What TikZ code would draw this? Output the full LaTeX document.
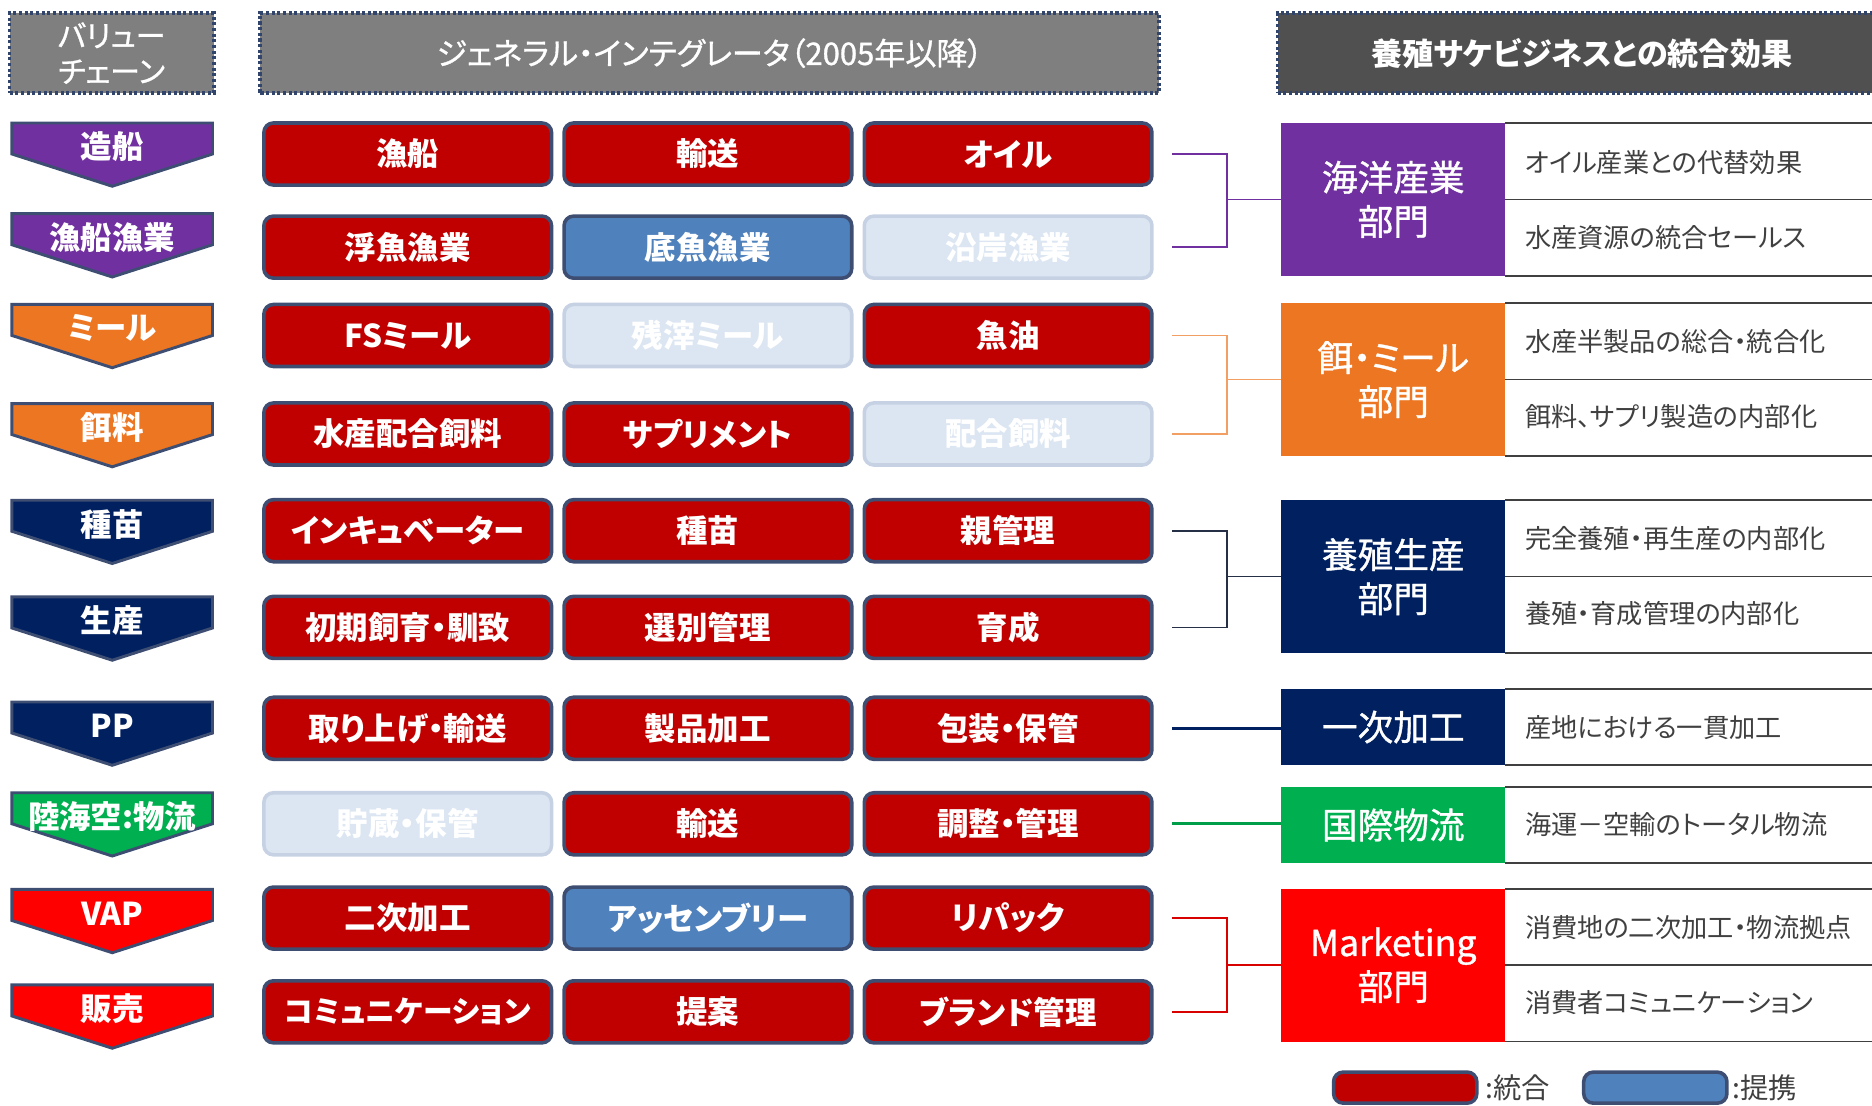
\documentclass[tikz,border=0pt]{standalone}
\usepackage{fontspec}
\setmainfont{Noto Sans CJK JP}[RawFeature=+palt]
\newfontfamily\medfont{Noto Sans CJK JP}[RawFeature=+palt, FakeBold=1]
\usepackage{tikz}
\usetikzlibrary{positioning}

\definecolor{boxred}{RGB}{192,0,0}
\definecolor{boxblue}{RGB}{79,129,189}
\definecolor{boxpale}{RGB}{220,230,242}
\definecolor{paleline}{RGB}{198,210,228}
\definecolor{slate}{RGB}{62,78,115}
\definecolor{hdgray}{RGB}{127,127,127}
\definecolor{hddark}{RGB}{80,80,80}
\definecolor{hdline}{RGB}{48,68,108}
\definecolor{cpurple}{RGB}{112,48,160}
\definecolor{corange}{RGB}{236,118,34}
\definecolor{cnavy}{RGB}{0,32,96}
\definecolor{cgreen}{RGB}{0,176,80}
\definecolor{cred}{RGB}{255,0,0}
\definecolor{txtgray}{RGB}{64,64,64}

\begin{document}
\begin{tikzpicture}[x=0.02cm, y=-0.02cm,
            hdbox/.style={rectangle, fill=hdgray, draw=hdline, line width=1.8pt, dash pattern=on 1.5pt off 1.2pt, text=white, minimum height=1.34cm, inner sep=0pt},
            chev/.style={draw=slate, line width=1.4pt},
            chevtext/.style={text=white, font=\bfseries\fontsize{15}{18}\selectfont},
            block/.style={rectangle, rounded corners=0.16cm, draw=slate, line width=1.7pt, fill=boxred, text=white, font=\bfseries\fontsize{15}{18}\selectfont, minimum width=4.82cm, minimum height=1.04cm, inner sep=0pt, outer sep=0pt},
            partner/.style={block, fill=boxblue},
            vacant/.style={block, fill=boxpale, draw=paleline},
            dept/.style={rectangle, text=white, minimum width=3.76cm, align=center, font=\medfont\fontsize{17}{21}\selectfont, inner sep=0pt, outer sep=0pt},
            effect/.style={anchor=west, text=txtgray, font=\fontsize{12.5}{15}\selectfont, inner sep=0pt},
            tabline/.style={draw=txtgray, line width=0.8pt},
            bracket/.style={line width=0.8pt},
            node distance=0.21cm
        ]
        \useasboundingbox (0,0) rectangle (1568,926);

        \node[hdbox, minimum width=3.42cm, align=center, font=\medfont\fontsize{14.3}{17}\selectfont] (hvc) at (93.5,44.5) {バリュー\\チェーン};
        \node[hdbox, minimum width=15.06cm, font=\medfont\fontsize{14.8}{17}\selectfont] (hgi) at (594.5,44.5) {ジェネラル・インテグレータ（2005年以降）};
        \node[hdbox, fill=hddark, minimum width=10.2cm, font=\bfseries\fontsize{14.8}{17}\selectfont] (hef) at (1325,44.5) {養殖サケビジネスとの統合効果};

        \foreach \t/\lab/\col [count=\i] in {103/造船/cpurple, 179/漁船漁業/cpurple, 255/ミール/corange, 338/餌料/corange, 419/種苗/cnavy, 500/生産/cnavy, 588/PP/cnavy, 664/陸海空:物流/cgreen, 745/VAP/cred, 825/販売/cred} {
            \draw[chev, fill=\col] (10,\t) -- (178,\t) -- (178,\t+26) -- (94,\t+53) -- (10,\t+26) -- cycle;
            \node[chevtext] (vc\i) at (94,\t+20) {\lab};
        }

        \node[block] (r1c1) at (341.5,129) {漁船};
        \node[block, right=of r1c1] (r1c2) {輸送};
        \node[block, right=of r1c2] (r1c3) {オイル};

        \node[block] (r2c1) at (341.5,207) {浮魚漁業};
        \node[partner, right=of r2c1] (r2c2) {底魚漁業};
        \node[vacant, right=of r2c2] (r2c3) {沿岸漁業};

        \node[block] (r3c1) at (341.5,281) {FSミール};
        \node[vacant, right=of r3c1] (r3c2) {残滓ミール};
        \node[block, right=of r3c2] (r3c3) {魚油};

        \node[block] (r4c1) at (341.5,363.5) {水産配合飼料};
        \node[block, right=of r4c1] (r4c2) {サプリメント};
        \node[vacant, right=of r4c2] (r4c3) {配合飼料};

        \node[block] (r5c1) at (341.5,444.5) {インキュベーター};
        \node[block, right=of r5c1] (r5c2) {種苗};
        \node[block, right=of r5c2] (r5c3) {親管理};

        \node[block] (r6c1) at (341.5,525.5) {初期飼育・馴致};
        \node[block, right=of r6c1] (r6c2) {選別管理};
        \node[block, right=of r6c2] (r6c3) {育成};

        \node[block] (r7c1) at (341.5,610) {取り上げ・輸送};
        \node[block, right=of r7c1] (r7c2) {製品加工};
        \node[block, right=of r7c2] (r7c3) {包装・保管};

        \node[vacant] (r8c1) at (341.5,690) {貯蔵・保管};
        \node[block, right=of r8c1] (r8c2) {輸送};
        \node[block, right=of r8c2] (r8c3) {調整・管理};

        \node[block] (r9c1) at (341.5,769) {二次加工};
        \node[partner, right=of r9c1] (r9c2) {アッセンブリー};
        \node[block, right=of r9c2] (r9c3) {リパック};

        \node[block] (r10c1) at (341.5,847.5) {\fontsize{14.2}{18}\selectfont コミュニケーション};
        \node[block, right=of r10c1] (r10c2) {提案};
        \node[block, right=of r10c2] (r10c3) {ブランド管理};

        \node[dept, fill=cpurple, minimum height=2.56cm] (d1) at (1167,167) {海洋産業\\部門};
        \node[dept, fill=corange, minimum height=2.56cm] (d2) at (1167,318) {餌・ミール\\部門};
        \node[dept, fill=cnavy, minimum height=2.56cm] (d3) at (1167,483) {養殖生産\\部門};
        \node[dept, fill=cnavy, minimum height=1.28cm] (d4) at (1167,609) {一次加工};
        \node[dept, fill=cgreen, minimum height=1.28cm] (d5) at (1167,691) {国際物流};
        \node[dept, fill=cred, minimum height=2.56cm] (d6) at (1167,808.5) {Marketing\\部門};

        \coordinate (edge) at (1568,0);
        \foreach \d in {d1,d2,d3,d6}
            \draw[tabline] (\d.north east) -- (\d.north east -| edge) (\d.east) -- (\d.east -| edge) (\d.south east) -- (\d.south east -| edge);
        \foreach \d in {d4,d5}
            \draw[tabline] (\d.north east) -- (\d.north east -| edge) (\d.south east) -- (\d.south east -| edge);

        \node[effect] (e1a) at (1277,136) {オイル産業との代替効果};
        \node[effect] (e1b) at (1277,199) {水産資源の統合セールス};
        \node[effect] (e2a) at (1277,286) {水産半製品の総合・統合化};
        \node[effect] (e2b) at (1277,349) {餌料、サプリ製造の内部化};
        \node[effect] (e3a) at (1277,451) {完全養殖・再生産の内部化};
        \node[effect] (e3b) at (1277,514) {養殖・育成管理の内部化};
        \node[effect] (e4) at (1277,609) {産地における一貫加工};
        \node[effect] (e5) at (1277,691) {海運－空輸のトータル物流};
        \node[effect] (e6a) at (1277,777) {消費地の二次加工・物流拠点};
        \node[effect] (e6b) at (1277,840) {消費者コミュニケーション};

        \draw[bracket, cpurple] ([xshift=0.34cm]r1c3.east) -- ++(46,0) |- ([xshift=0.34cm]r2c3.east);
        \draw[bracket, cpurple] (d1.west) -- ++(-44.5,0);
        \draw[bracket, corange!70] ([xshift=0.34cm]r3c3.east) -- ++(46,0) |- ([xshift=0.34cm]r4c3.east);
        \draw[bracket, corange!70] (d2.west) -- ++(-44.5,0);
        \draw[bracket, slate!60!black] ([xshift=0.34cm]r5c3.east) -- ++(46,0) |- ([xshift=0.34cm]r6c3.east);
        \draw[bracket, slate!60!black] (d3.west) -- ++(-44.5,0);
        \draw[line width=1.3pt, cnavy] ([xshift=0.34cm]r7c3.east) -- (r7c3.east -| d4.west);
        \draw[line width=1.3pt, cgreen!90!black] ([xshift=0.34cm]r8c3.east) -- (r8c3.east -| d5.west);
        \draw[bracket, red!85!black] ([xshift=0.34cm]r9c3.east) -- ++(46,0) |- ([xshift=0.34cm]r10c3.east);
        \draw[bracket, red!85!black] (d6.west) -- ++(-44.5,0);

        \node[block, minimum width=2.4cm, minimum height=0.52cm] (lg1) at (1177,911) {};
        \node[anchor=west, inner sep=0pt, text=txtgray, font=\fontsize{13.5}{16}\selectfont] (lg1t) at ([xshift=0.14cm]lg1.east) {:統合};
        \node[partner, minimum width=2.4cm, minimum height=0.52cm] (lg2) at (1386.5,911) {};
        \node[anchor=west, inner sep=0pt, text=txtgray, font=\fontsize{13.5}{16}\selectfont] (lg2t) at ([xshift=0.08cm]lg2.east) {:提携};

    \end{tikzpicture}
\end{document}
